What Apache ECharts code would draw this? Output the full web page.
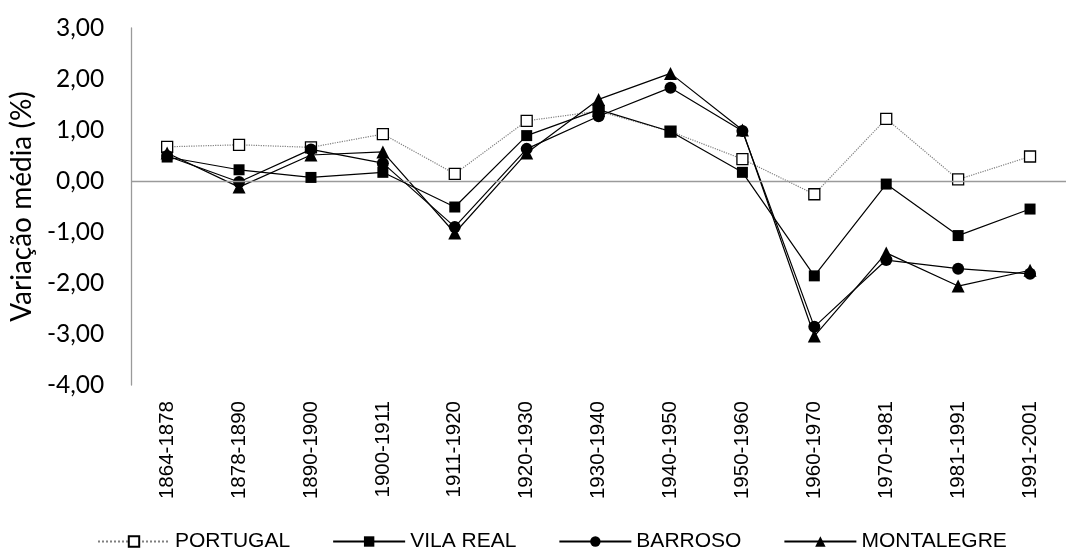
<!DOCTYPE html>
<html>
<head>
<meta charset="utf-8">
<script src="https://cdn.jsdelivr.net/npm/echarts@6/dist/echarts.min.js"></script>
<style>html,body{margin:0;padding:0;background:#fff}#c{width:1066px;height:548px}</style>
</head>
<body>
<div id="c"></div>
<script>
var categories = ['1864-1878','1878-1890','1890-1900','1900-1911','1911-1920','1920-1930','1930-1940','1940-1950','1950-1960','1960-1970','1970-1981','1981-1991','1991-2001'];
var portugal   = [0.67, 0.71, 0.66, 0.92, 0.14, 1.18, 1.37, 0.97, 0.43, -0.26, 1.22, 0.03, 0.48];
var vilaReal   = [0.47, 0.22, 0.07, 0.17, -0.51, 0.89, 1.40, 0.97, 0.17, -1.86, -0.06, -1.07, -0.55];
var barroso    = [0.49, -0.02, 0.62, 0.35, -0.90, 0.63, 1.27, 1.83, 0.98, -2.86, -1.55, -1.72, -1.82];
var montalegre = [0.55, -0.12, 0.51, 0.57, -1.02, 0.55, 1.60, 2.11, 1.00, -3.04, -1.41, -2.06, -1.75];
var seriesNames = ['PORTUGAL','VILA REAL','BARROSO','MONTALEGRE'];
var yMin = -4, yMax = 3, yStep = 1;

var chart = echarts.init(document.getElementById('c'), null, {renderer:'canvas'});
var black = '#000000';
chart.setOption({
  animation: false,
  backgroundColor: '#ffffff',
  grid: {left: 125, right: -11, top: 28, bottom: 163, containLabel: false},
  legend: {
    data: seriesNames,
    left: 92, top: 526,
    itemWidth: 72, itemHeight: 13, itemGap: 42,
    textStyle: {fontFamily: 'Liberation Sans', fontSize: 21, color: '#000'}
  },
  xAxis: {
    type: 'category', data: categories, boundaryGap: true,
    axisLine: {show: false}, axisTick: {show: false},
    axisLabel: {rotate: 90, margin: 16, fontFamily: 'Liberation Sans', fontSize: 20.5, color: '#000', interval: 0}
  },
  yAxis: {
    type: 'value', min: yMin, max: yMax, interval: yStep,
    name: 'Variação média (%)', nameLocation: 'middle', nameGap: 93,
    nameTextStyle: {fontFamily: 'Lato', fontSize: 28, color: '#000'},
    axisLine: {show: true, lineStyle: {color: '#9a9a9a', width: 1.3}},
    axisTick: {show: false}, splitLine: {show: false},
    axisLabel: {margin: 27, fontFamily: 'Lato', fontSize: 24.5, color: '#000',
      formatter: function(v){ return v.toFixed(2).replace('.', ','); }}
  },
  series: [
    {name: 'PORTUGAL', type: 'line', data: portugal, z: 2,
     symbol: 'rect', symbolSize: 11, showAllSymbol: true,
     itemStyle: {color: '#ffffff', borderColor: '#000', borderWidth: 1.3},
     lineStyle: {color: '#7f7f7f', width: 1.2, type: 'dotted'},
     markLine: {silent: true, symbol: 'none', label: {show: false},
       lineStyle: {color: '#9a9a9a', width: 1.3, type: 'solid'},
       emphasis: {disabled: true}, data: [{yAxis: 0}]}},
    {name: 'MONTALEGRE', type: 'line', data: montalegre, z: 3,
     symbol: 'triangle', symbolSize: 13,
     itemStyle: {color: black}, lineStyle: {color: black, width: 1.2}},
    {name: 'BARROSO', type: 'line', data: barroso, z: 4,
     symbol: 'circle', symbolSize: 12,
     itemStyle: {color: black}, lineStyle: {color: black, width: 1.2}},
    {name: 'VILA REAL', type: 'line', data: vilaReal, z: 5,
     symbol: 'rect', symbolSize: 11,
     itemStyle: {color: black}, lineStyle: {color: black, width: 1.2}}
  ]
});
</script>
</body>
</html>
